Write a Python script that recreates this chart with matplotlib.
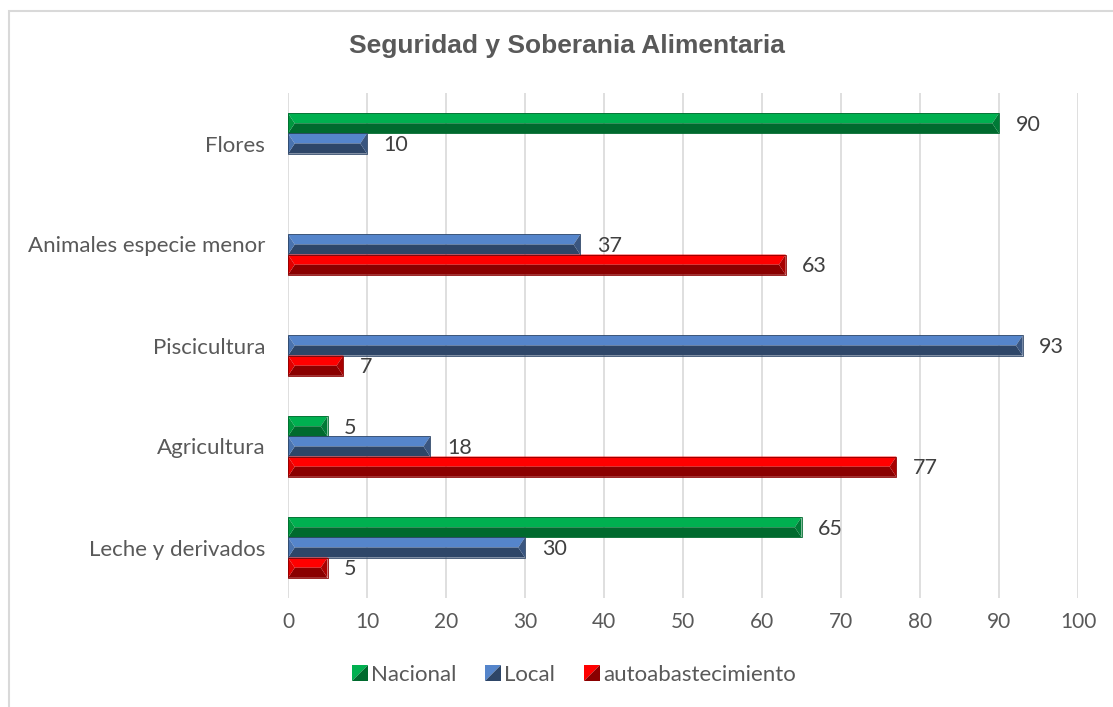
import numpy as np
import matplotlib
matplotlib.use("Agg")
import matplotlib.pyplot as plt
from matplotlib.patches import Polygon, Rectangle
from matplotlib.legend_handler import HandlerBase

categories = ["Leche y derivados", "Agricultura", "Piscicultura", "Animales especie menor", "Flores"]
series_names = ["Nacional", "Local", "autoabastecimiento"]
nacional = [65, 5, np.nan, np.nan, 90]
local = [30, 18, 93, 37, 10]
autoabast = [5, 77, 7, 63, np.nan]
xticks = [0, 10, 20, 30, 40, 50, 60, 70, 80, 90, 100]

light = ["#00B050", "#5585CB", "#FF0000"]
dark = ["#006A2E", "#2E4668", "#8A0000"]
leftc = ["#00973F", "#4A73AE", "#E00000"]
rightc = ["#007A36", "#3A5680", "#A80000"]

plt.rcParams['font.family'] = ['Lato', 'DejaVu Sans']
fig = plt.figure(figsize=(11.13, 7.07), dpi=100)
ax = fig.add_axes([288/1113, 1-598/707, (1078-288)/1113, (598-93)/707])

# outer chart border (left and top visible)
fig.patches.append(Rectangle((9/1113, -0.1), 1.2, 1-11/707+0.1, transform=fig.transFigure,
                             fill=False, edgecolor="#D9D9D9", linewidth=1.5, zorder=0))

series = [nacional, local, autoabast]
offsets = [0.2, 0.0, -0.2]
h = 0.2
bev = 0.85  # bevel width in data units

y = np.arange(len(categories))
for si, vals in enumerate(series):
    for ci, v in enumerate(vals):
        if np.isnan(v):
            continue
        yc = y[ci] + offsets[si]
        y0, y1 = yc - h/2, yc + h/2
        b = min(bev, v/3)
        # top face
        ax.add_patch(Polygon([(0, y1), (v, y1), (v - b, yc), (b, yc)], closed=True,
                             facecolor=light[si], edgecolor="none", zorder=3))
        # bottom face
        ax.add_patch(Polygon([(0, y0), (v, y0), (v - b, yc), (b, yc)], closed=True,
                             facecolor=dark[si], edgecolor="none", zorder=3))
        # left face
        ax.add_patch(Polygon([(0, y1), (0, y0), (b, yc)], closed=True,
                             facecolor=leftc[si], edgecolor="none", zorder=3))
        # right face
        ax.add_patch(Polygon([(v, y1), (v, y0), (v - b, yc)], closed=True,
                             facecolor=rightc[si], edgecolor="none", zorder=3))
        ax.add_patch(Rectangle((0, y0), v, h, facecolor="none", edgecolor=dark[si],
                               linewidth=0.6, zorder=5))
        ax.annotate(f"{int(v)}", xy=(v, yc), xytext=(12, -1), textcoords="offset points",
                    ha="left", va="center", fontsize=15.5, color="#404040", zorder=6)

ax.set_xlim(0, 100)
ax.set_ylim(-0.5, len(categories) - 0.5)
ax.set_xticks(xticks)
ax.set_xticklabels([str(t) for t in xticks])
ax.set_yticks(y)
ax.set_yticklabels(categories)
ax.tick_params(axis="both", length=0, labelcolor="#595959")
ax.tick_params(axis="x", pad=10, labelsize=15)
ax.tick_params(axis="y", pad=16.5, labelsize=16)
ax.grid(axis="x", color="#D9D9D9", linewidth=1.2, zorder=0)
ax.set_axisbelow(True)
for s in ax.spines.values():
    s.set_visible(False)

fig.text(567/1113, 1-46/707, "Seguridad y Soberania Alimentaria", ha="center", va="center",
         fontsize=19, fontweight="bold", color="#595959", family="Liberation Sans")

class BevelHandler(HandlerBase):
    def __init__(self, li, di):
        super().__init__()
        self.li, self.di = li, di
    def create_artists(self, legend, orig_handle, xdescent, ydescent, width, height, fontsize, trans):
        s = height
        x0 = width - s
        p1 = Polygon([(x0, 0), (x0 + s, 0), (x0 + s, s)], closed=True, facecolor=self.di,
                     edgecolor="none", transform=trans)
        p2 = Polygon([(x0, 0), (x0, s), (x0 + s, s)], closed=True, facecolor=self.li,
                     edgecolor="none", transform=trans)
        return [p2, p1]

handles = [Rectangle((0, 0), 1, 1) for _ in series_names]
hmap = {handles[i]: BevelHandler(light[i], dark[i]) for i in range(3)}
leg = fig.legend(handles, series_names, handler_map=hmap, loc="center",
                 bbox_to_anchor=(574/1113, 1-675/707), ncol=3, frameon=False,
                 fontsize=16, labelcolor="#595959", handlelength=0.7, handleheight=0.7,
                 handletextpad=0.15, columnspacing=1.3)

fig.savefig("out.png", dpi=100)
